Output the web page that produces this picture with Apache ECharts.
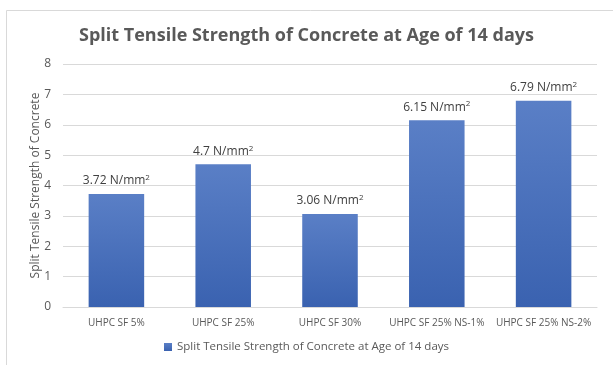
<!DOCTYPE html>
<html><head><meta charset="utf-8">
<script src="https://cdn.jsdelivr.net/npm/echarts@6/dist/echarts.min.js"></script>
<style>html,body{margin:0;padding:0;background:#fff}#c{width:613px;height:365px}</style>
</head><body><div id="c"></div>
<script>
const categories = ['UHPC SF 5%', 'UHPC SF 25%', 'UHPC SF 30%', 'UHPC SF 25% NS-1%', 'UHPC SF 25% NS-2%'];
const values = [3.72, 4.7, 3.06, 6.15, 6.79];
const seriesName = 'Split Tensile Strength of Concrete at Age of 14 days';
const yTicks = [0, 1, 2, 3, 4, 5, 6, 7, 8];

const chart = echarts.init(document.getElementById('c'), null, {renderer: 'canvas'});
const font = 'Open Sans, Lato, sans-serif';
chart.setOption({
  animation: false,
  backgroundColor: '#fff',
  graphic: [{type: 'rect', shape: {x: 6.5, y: 10.5, width: 620, height: 400}, style: {fill: 'none', stroke: '#d9d9d9', lineWidth: 1}, silent: true}],
  title: {text: 'Split Tensile Strength of Concrete at Age of 14 days', left: 'center', top: 22,
    textStyle: {fontFamily: font, fontSize: 18, fontWeight: 'bold', color: '#595959'}},
  legend: {bottom: 7, left: 'center', itemWidth: 8, itemHeight: 8, icon: 'rect', itemGap: 4,
    textStyle: {fontFamily: font, fontSize: 11.5, color: '#595959'}},
  grid: {left: 63, right: 16, top: 64, bottom: 58, containLabel: false},
  xAxis: {type: 'category', data: categories,
    axisLine: {lineStyle: {color: '#d9d9d9'}}, axisTick: {show: false},
    axisLabel: {fontFamily: font, fontSize: 10, color: '#595959', margin: 11, interval: 0}},
  yAxis: {type: 'value', min: yTicks[0], max: yTicks[yTicks.length - 1], interval: 1,
    name: 'Split Tensile Strength of Concrete', nameLocation: 'middle', nameGap: 21, nameMoveOverlap: false,
    nameTextStyle: {fontFamily: font, fontSize: 12, color: '#595959'},
    axisLine: {show: false}, axisTick: {show: false},
    splitLine: {lineStyle: {color: '#d9d9d9'}},
    axisLabel: {fontFamily: font, fontSize: 12, color: '#595959', margin: 12}},
  series: [{
    name: seriesName, type: 'bar', data: values, barWidth: '52%',
    itemStyle: {color: new echarts.graphic.LinearGradient(0, 0, 0, 1, [{offset: 0, color: '#5a7fc6'}, {offset: 1, color: '#3a62b0'}])},
    label: {show: true, position: 'top', distance: 6,
      formatter: p => '{a|' + p.value + ' N/mm}{s|2}',
      rich: {a: {fontFamily: font, fontSize: 12, color: '#404040'},
             s: {fontFamily: font, fontSize: 8, color: '#404040', verticalAlign: 'top', padding: [0, 0, 6, 0]}}}
  }]
});
</script></body></html>
